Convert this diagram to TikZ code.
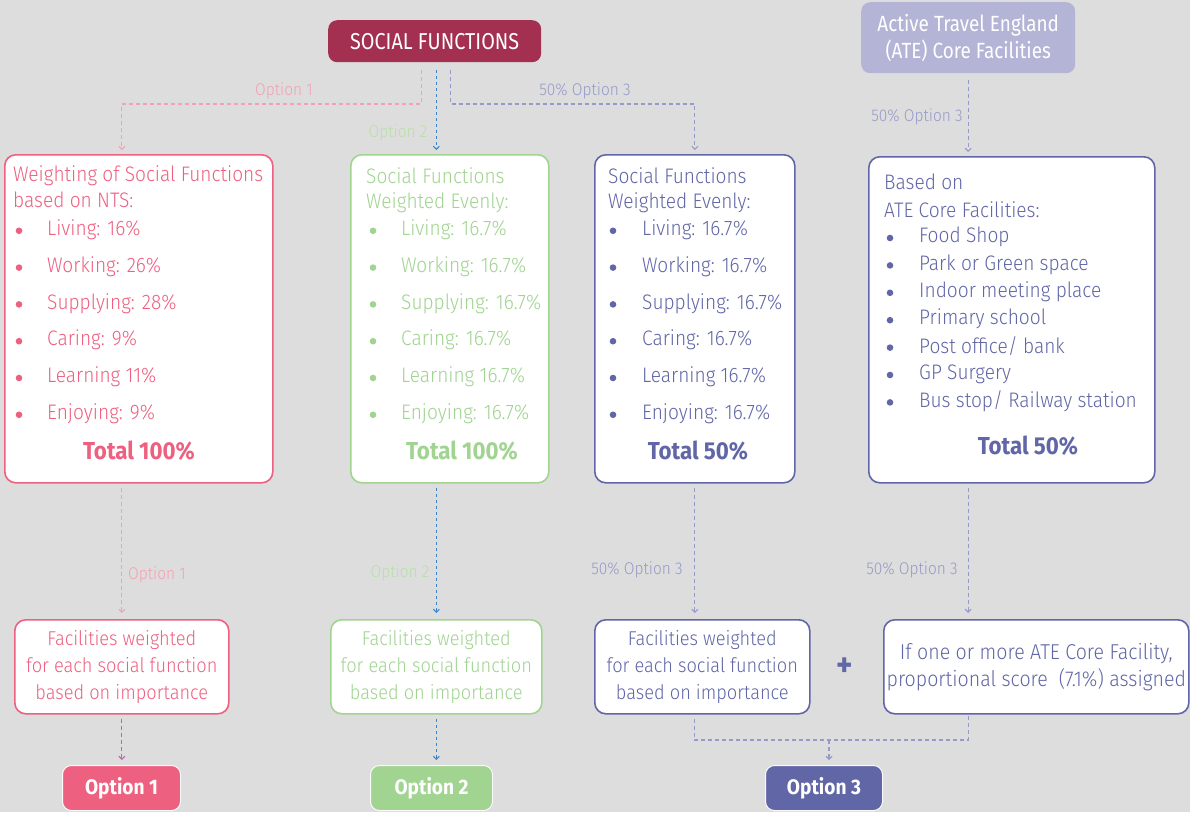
\documentclass[tikz,border=0pt]{standalone}
\usepackage{fontspec}
\setmainfont{Fira Sans}[UprightFont=* Light, BoldFont=* Bold, FakeStretch=0.91]
\newfontfamily\regfont{Fira Sans}[FakeStretch=0.86]
\usetikzlibrary{arrows.meta,calc}
\definecolor{bg}{RGB}{221,221,221}
\definecolor{pk}{RGB}{238,96,128}
\definecolor{pklt}{RGB}{244,160,180}
\definecolor{gr}{RGB}{160,212,144}
\definecolor{grlt}{RGB}{184,224,168}
\definecolor{pu}{RGB}{96,102,166}
\definecolor{pult}{RGB}{150,154,200}
\definecolor{blc}{RGB}{58,132,204}
\definecolor{crim}{RGB}{163,48,80}
\definecolor{lav}{RGB}{180,180,214}
\definecolor{pkpu}{RGB}{180,106,174}
\begin{document}
\begin{tikzpicture}[x=1pt,y=-1pt,
  box/.style={draw, line width=1.6pt, fill=white, rounded corners=11pt, anchor=north west, inner sep=0pt},
  fbox/.style={box, align=center, font=\fontsize{20}{27}\selectfont},
  head/.style={rounded corners=9pt, anchor=north west, inner sep=0pt, text=white, align=center},
  btn/.style={head, draw=white!85!bg, line width=1pt, font=\fontsize{21}{22}\selectfont\bfseries},
  txt/.style={anchor=west, inner sep=0pt, font=\fontsize{21}{24}\selectfont},
  tot/.style={inner sep=0pt, font=\fontsize{24.5}{26}\selectfont\bfseries},
  lab/.style={inner sep=0pt, font=\fontsize{17}{18}\selectfont},
  conn/.style={line width=1.1pt, dash pattern=on 4pt off 3pt, -{Straight Barb[length=3pt,width=6pt]}},
  connp/.style={line width=1.1pt, dash pattern=on 4pt off 3pt}
]
\useasboundingbox[fill=bg] (0,0) rectangle (1190,812);

% headers
\node[head, fill=crim, minimum width=213pt, minimum height=42pt, font=\regfont\fontsize{23}{24}\selectfont] (sf) at (328,20) {SOCIAL FUNCTIONS};
\node[head, fill=lav, minimum width=214pt, minimum height=71pt, font=\regfont\fontsize{22}{27}\selectfont] (ate) at (861,2) {Active Travel England\\(ATE) Core Facilities};

% main boxes
\node[box, draw=pk, minimum width=268pt, minimum height=328pt] (b1) at (4,154) {};
\node[box, draw=gr, minimum width=198pt, minimum height=328pt] (b2) at (350,154) {};
\node[box, draw=pu, minimum width=200pt, minimum height=328pt] (b3) at (594,154) {};
\node[box, draw=pu, minimum width=286pt, minimum height=326pt] (b4) at (868,156) {};

% box 1 text
\node[txt, text=pk] (b1h1) at (13,176) {Weighting of Social Functions};
\node[txt, text=pk] (b1h2) at (13,200) {based on NTS:};
\foreach \t [count=\i] in {Living: 16\%, Working: 26\%, Supplying: 28\%, Caring: 9\%, Learning 11\%, Enjoying: 9\%}{
  \node[txt, text=pk] (b1i\i) at (47,{193+36.8*\i}) {\t};
  \fill[pk] (19,{194+36.8*\i}) circle (3.3pt);}
\node[tot, text=pk] (b1t) at (139,451) {Total 100\%};

% box 2 text
\node[txt, text=gr] (b2h1) at (366,176) {Social Functions};
\node[txt, text=gr] (b2h2) at (366,203) {Weighted Evenly:};
\foreach \t [count=\i] in {Living: 16.7\%, Working: 16.7\%, Supplying: 16.7\%, Caring: 16.7\%, Learning 16.7\%, Enjoying: 16.7\%}{
  \node[txt, text=gr] (b2i\i) at (401,{193+36.8*\i}) {\t};
  \fill[gr] (373,{194+36.8*\i}) circle (3.3pt);}
\node[tot, text=gr] (b2t) at (462,451) {Total 100\%};

% box 3 text
\node[txt, text=pu] (b3h1) at (608,176) {Social Functions};
\node[txt, text=pu] (b3h2) at (608,203) {Weighted Evenly:};
\foreach \t [count=\i] in {Living: 16.7\%, Working: 16.7\%, Supplying: 16.7\%, Caring: 16.7\%, Learning 16.7\%, Enjoying: 16.7\%}{
  \node[txt, text=pu] (b3i\i) at (642,{193+36.8*\i}) {\t};
  \fill[pu] (613,{194+36.8*\i}) circle (3.3pt);}
\node[tot, text=pu] (b3t) at (698,451) {Total 50\%};

% box 4 text
\node[txt, text=pu] (b4h1) at (884,182) {Based on};
\node[txt, text=pu] (b4h2) at (884,210) {ATE Core Facilities:};
\foreach \t [count=\i] in {Food Shop, Park or Green space, Indoor meeting place, Primary school, Post office/ bank, GP Surgery, Bus stop/ Railway station}{
  \node[txt, text=pu] (b4i\i) at (919,{209.6+27.4*\i}) {\t};
  \fill[pu] (890,{210.6+27.4*\i}) circle (3.3pt);}
\node[tot, text=pu] (b4t) at (1028,446) {Total 50\%};

% lower boxes
\node[fbox, draw=pk, text=pk, minimum width=214pt, minimum height=94pt] (b1b) at (14,619) {Facilities weighted\\for each social function\\based on importance};
\node[fbox, draw=gr, text=gr, minimum width=211pt, minimum height=94pt] (b2b) at (330,619) {Facilities weighted\\for each social function\\based on importance};
\node[fbox, draw=pu, text=pu, minimum width=215pt, minimum height=94pt] (b3b) at (594,619) {Facilities weighted\\for each social function\\based on importance};
\node[fbox, draw=pu, text=pu, minimum width=305pt, minimum height=94pt, font=\fontsize{21.5}{27}\selectfont] (b4b) at (883,619) {If one or more ATE Core Facility,\\proportional score\ \ (7.1\%) assigned};
\node[text=pu, inner sep=0pt, font=\fontsize{34}{34}\selectfont\bfseries] (plus) at (845,667) {+};

% option buttons
\node[btn, fill=pk, minimum width=118pt, minimum height=45pt] (o1) at (62,765) {Option 1};
\node[btn, fill=gr, minimum width=122pt, minimum height=45pt] (o2) at (370,765) {Option 2};
\node[btn, fill=pu, minimum width=117pt, minimum height=45pt] (o3) at (765,765) {Option 3};

% bus levels
\coordinate (bus) at (0,104);
\coordinate (bus2) at (0,740);

% top connectors
\draw[conn, pklt, shorten <=8pt, shorten >=4pt] ([xshift=-13.5pt]sf.south) |- (bus -| b1b.north) -- (b1.north -| b1b.north);
\draw[conn, blc, dash pattern=on 3pt off 3pt, shorten <=8pt, shorten >=4pt] (sf.south -| b2b.north) -- (b2.north -| b2b.north);
\draw[conn, pult, shorten <=8pt, shorten >=4pt] ([xshift=15.5pt]sf.south) |- (bus -| b3.north) -- (b3.north);
\draw[conn, pult, shorten <=7pt, shorten >=4pt] (ate.south) -- (b4.north -| ate.south);

\node[lab, text=pklt] (l1) at (284,91) {Option 1};
\node[lab, text=grlt] (l2) at (398,133) {Option 2};
\node[lab, text=pult] (l3) at (585,91) {50\% Option 3};
\node[lab, text=pult] (l4) at (917,117) {50\% Option 3};

% middle connectors
\draw[conn, pklt, shorten <=4pt, shorten >=6pt] (b1.south -| b1b.north) -- (b1b.north);
\draw[conn, blc, dash pattern=on 3pt off 3pt, shorten <=4pt, shorten >=6pt] (b2.south -| b2b.north) -- (b2b.north);
\draw[conn, pult, shorten <=4pt, shorten >=6pt] (b3.south) -- (b3.south |- b3b.north);
\draw[conn, pult, shorten <=4pt, shorten >=6pt] (b4.south -| ate.south) -- (b4b.north -| ate.south);

\node[lab, text=pklt] (l5) at (157,575) {Option 1};
\node[lab, text=grlt] (l6) at (400,573) {Option 2};
\node[lab, text=pult] (l7) at (637,570) {50\% Option 3};
\node[lab, text=pult] (l8) at (912,570) {50\% Option 3};

% bottom connectors
\draw[conn, pkpu, shorten <=4pt, shorten >=5pt] (b1b.south) -- (o1.north -| b1b.south);
\draw[conn, blc, dash pattern=on 3pt off 3pt, shorten <=4pt, shorten >=5pt] (b2b.south) -- (o2.north -| b2b.south);
\draw[connp, pult, shorten <=4pt] (b3b.south -| b3.south) |- (bus2 -| ate.south) -- (b4b.south -| ate.south);
\draw[conn, pult, shorten >=5pt] ([xshift=5pt]bus2 -| o3.north) -- ([xshift=5pt]o3.north);
\end{tikzpicture}
\end{document}
